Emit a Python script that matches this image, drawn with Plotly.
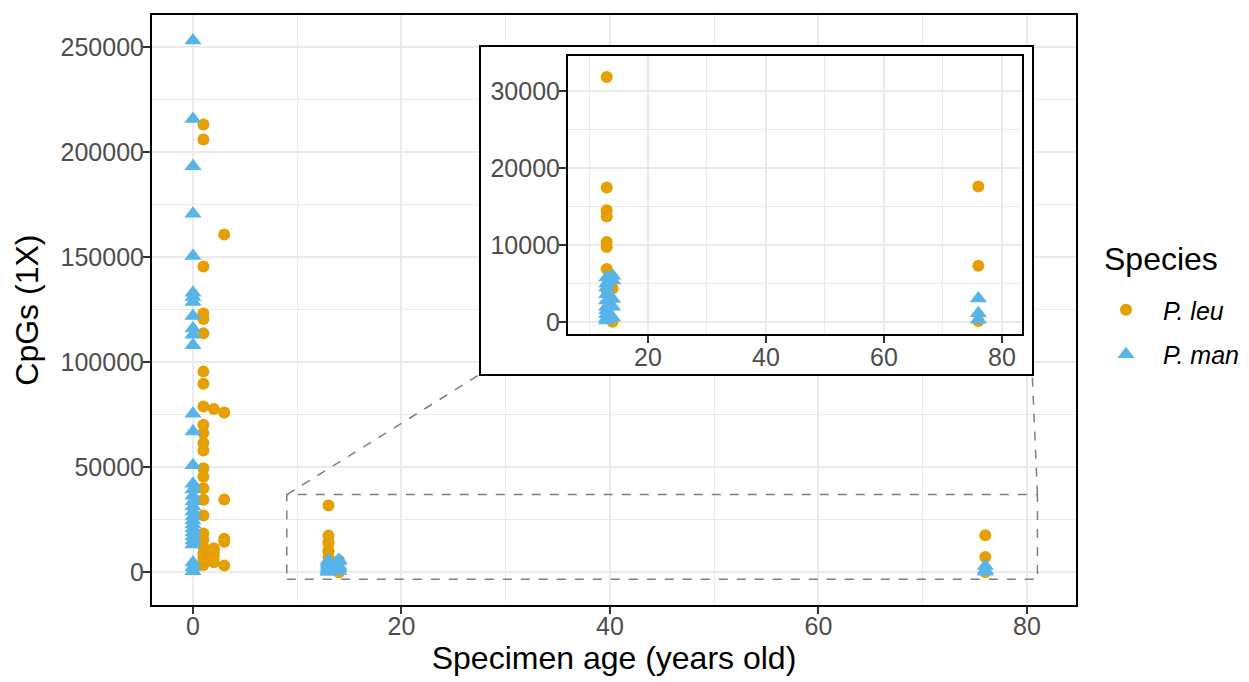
import plotly.graph_objects as go

# ---------------- data ----------------
leu_age = ([1] * 25 + [2] * 5 + [3] * 6 + [13] * 8 + [14] * 3 + [76] * 3)
leu_cpg = [213100, 205900, 145500, 123200, 120500, 113700, 95500, 89700, 78900,
           70200, 66300, 61500, 58000, 49500, 45500, 40000, 34500, 27000, 18500,
           15500, 12000, 9000, 7000, 5000, 3500,
           77700, 11500, 9500, 7500, 4800,
           160700, 76000, 34600, 16000, 14500, 3200,
           31800, 17470, 14500, 13700, 10400, 9750, 6900, 4140,
           5650, 4360, 40,
           17600, 7300, 130]

man_age = ([0] * 32 + [13] * 10 + [14] * 5 + [76] * 3)
man_cpg = [253000, 215700, 193200, 170600, 150500, 133000, 131000, 128600, 122000,
           116000, 113000, 108000, 75500, 67000, 51000,
           42200, 39400, 36500, 33700, 31300, 28900, 26600, 24700, 22800, 20900,
           19000, 17100, 15200, 13300, 4700, 2400, 500,
           5800, 5000, 4500, 3600, 2800, 2000, 1500, 1000, 500, 200,
           6000, 5400, 3000, 2000, 600,
           3070, 1130, 300]

species = ["<i>P. leu</i>", "<i>P. man</i>"]
x_ticks = [0, 20, 40, 60, 80]
y_ticks = [0, 50000, 100000, 150000, 200000, 250000]
inset_x_ticks = [20, 40, 60, 80]
inset_y_ticks = [0, 10000, 20000, 30000]

# zoom window (main data coordinates) and inset corners
zoom_x = [9, 81]
zoom_y = [-3320, 37000]
inset_corner_x = [27.6, 80.5]
inset_corner_y = 94400

ORANGE = "#E69F00"
BLUE = "#56B4E9"
FONT = "Liberation Sans, Arial, sans-serif"
GRID = "#EBEBEB"
W, H = 1249, 682
OFF_X = 8  # page body margin
OFF_Y = 7


def px_x(p):
    return (p - OFF_X) / W


def px_y(p):
    return (H - (p - OFF_Y)) / H


fig = go.Figure()

# main plot
fig.add_trace(go.Scatter(x=leu_age, y=leu_cpg, mode="markers", name=species[0],
                         legendgroup="leu",
                         marker=dict(color=ORANGE, size=12, symbol="circle"),
                         xaxis="x", yaxis="y"))
fig.add_trace(go.Scatter(x=man_age, y=man_cpg, mode="markers", name=species[1],
                         legendgroup="man",
                         marker=dict(color=BLUE, size=15, symbol="triangle-up"),
                         xaxis="x", yaxis="y"))

# dummy subplot used as white background box of the inset
fig.add_trace(go.Scatter(x=[None], y=[None], mode="markers", showlegend=False,
                         hoverinfo="skip", xaxis="x2", yaxis="y2"))

# inset
fig.add_trace(go.Scatter(x=leu_age, y=leu_cpg, mode="markers", showlegend=False,
                         marker=dict(color=ORANGE, size=12, symbol="circle"),
                         xaxis="x3", yaxis="y3"))
fig.add_trace(go.Scatter(x=man_age, y=man_cpg, mode="markers", showlegend=False,
                         marker=dict(color=BLUE, size=15, symbol="triangle-up"),
                         xaxis="x3", yaxis="y3"))

tickfont = dict(family=FONT, size=25, color="#4D4D4D")
common = dict(showline=True, mirror=True, linecolor="black", linewidth=2,
              ticks="outside", ticklen=7, tickwidth=1.5, tickcolor="#333333",
              showgrid=True, gridcolor=GRID, gridwidth=1.5, zeroline=False,
              tickfont=tickfont)

fig.update_layout(
    width=W, height=H,
    margin=dict(l=0, r=0, t=0, b=0),
    paper_bgcolor="white", plot_bgcolor="white",
    font=dict(family=FONT),
    xaxis=dict(domain=[px_x(152), px_x(1076)], range=[-3.93, 84.70],
               tickvals=x_ticks, tickmode="array", ticklabelstandoff=-9,
               minor=dict(tickvals=[10, 30, 50, 70], showgrid=True, gridcolor=GRID,
                          gridwidth=0.8, ticks=""),
               title=dict(text="Specimen age (years old)", standoff=7,
                          font=dict(family=FONT, size=32, color="black")),
               anchor="y", **common),
    yaxis=dict(domain=[px_y(606), px_y(14)], range=[-15655, 265190],
               tickvals=y_ticks, tickmode="array", tickformat="d",
               ticklabelstandoff=-6,
               minor=dict(tickvals=[25000, 75000, 125000, 175000, 225000],
                          showgrid=True, gridcolor=GRID, gridwidth=0.8, ticks=""),
               title=dict(text="CpGs (1X)", standoff=12,
                          font=dict(family=FONT, size=32, color="black")),
               anchor="x", **common),
    xaxis2=dict(domain=[px_x(481), px_x(1032)], range=[0, 1], showline=True,
                mirror=True, linecolor="black", linewidth=2, showgrid=False,
                zeroline=False, showticklabels=False, ticks="", anchor="y2"),
    yaxis2=dict(domain=[px_y(374), px_y(46)], range=[0, 1], showline=True,
                mirror=True, linecolor="black", linewidth=2, showgrid=False,
                zeroline=False, showticklabels=False, ticks="", anchor="x2"),
    xaxis3=dict(domain=[px_x(568), px_x(1022)], range=[6.44, 83.4],
                tickvals=inset_x_ticks, tickmode="array", ticklabelstandoff=-7,
                minor=dict(tickvals=[10, 30, 50, 70], showgrid=True, gridcolor=GRID,
                           gridwidth=0.8, ticks=""),
                anchor="y3", **common),
    yaxis3=dict(domain=[px_y(334), px_y(55)], range=[-1552, 34540],
                tickvals=inset_y_ticks, tickmode="array", tickformat="d",
                ticklabelstandoff=-6,
                minor=dict(tickvals=[5000, 15000, 25000], showgrid=True,
                           gridcolor=GRID, gridwidth=0.8, ticks=""),
                anchor="x3", **common),
    legend=dict(font=dict(family=FONT, size=25, color="black"),
                x=px_x(1089), y=px_y(332), xanchor="left", yanchor="middle",
                bgcolor="rgba(0,0,0,0)", itemwidth=64, tracegroupgap=9),
    showlegend=True,
    annotations=[dict(text="Species", xref="paper", yref="paper",
                      x=px_x(1102), y=px_y(259), xanchor="left", yanchor="middle",
                      showarrow=False,
                      font=dict(family=FONT, size=32, color="black"))],
)

dash = dict(color="#7F7F7F", width=1.5, dash="dash")
fig.add_shape(type="rect", xref="x", yref="y", x0=zoom_x[0], x1=zoom_x[1],
              y0=zoom_y[0], y1=zoom_y[1], line=dash, layer="above")
fig.add_shape(type="line", xref="x", yref="y", x0=zoom_x[0], y0=zoom_y[1],
              x1=inset_corner_x[0], y1=inset_corner_y, line=dash, layer="above")
fig.add_shape(type="line", xref="x", yref="y", x0=zoom_x[1], y0=zoom_y[1],
              x1=inset_corner_x[1], y1=inset_corner_y, line=dash, layer="above")

fig.write_html("out.html")
